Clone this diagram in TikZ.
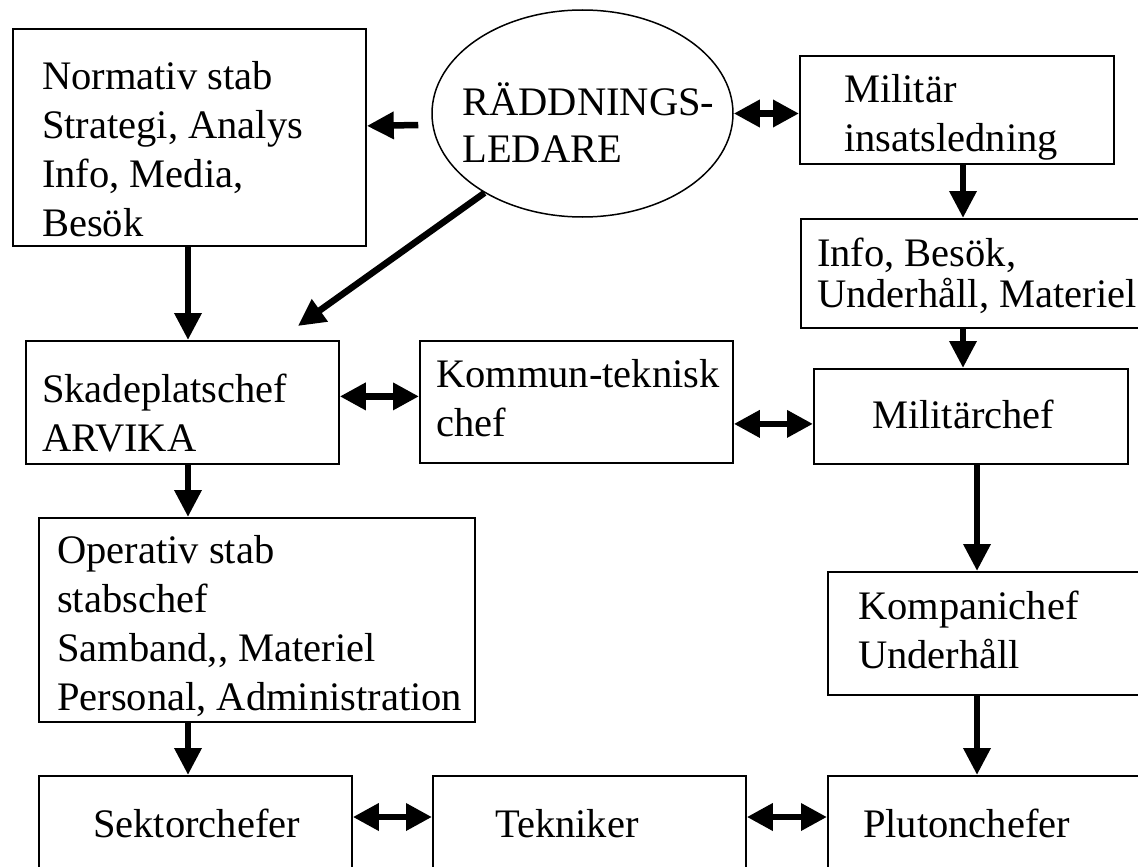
\documentclass[tikz,border=0pt]{standalone}
\usepackage{fontspec}
\setmainfont{Liberation Serif}
\usepackage{tikz}
\usetikzlibrary{shapes,arrows,positioning,calc,arrows.meta}

\tikzset{
  box/.style={draw, line width=1.8pt, anchor=north west, inner sep=0pt},
  txt/.style={anchor=north west, inner sep=0pt, align=left, font=\fontsize{40.5}{49}\selectfont},
  arr/.style={line width=6.5pt, -{Triangle[length=27pt,width=26pt]}},
  dbl/.style={line width=6.5pt, {Triangle[length=26pt,width=26pt]}-{Triangle[length=26pt,width=26pt]}}
}

\begin{document}
\begin{tikzpicture}[x=1pt,y=-1pt]
\useasboundingbox (0,0) rectangle (1138,867);
\clip (0,0) rectangle (1138,867);

% boxes
\node[box, minimum width=353pt, minimum height=217pt] (normativ) at (12,28) {};
\node[draw, line width=1.5pt, ellipse, inner sep=0pt, minimum width=301pt, minimum height=207pt] (leder) at (582.5,113.5) {};
\node[box, minimum width=314pt, minimum height=108pt] (militar) at (799,55) {};
\node[box, minimum width=350pt, minimum height=109pt] (info) at (800,218) {};
\node[box, minimum width=313pt, minimum height=123pt] (skade) at (25,340) {};
\node[box, minimum width=313pt, minimum height=122pt] (kommun) at (419,340) {};
\node[box, minimum width=314pt, minimum height=95pt] (militarchef) at (813,368) {};
\node[box, minimum width=436pt, minimum height=204pt] (operativ) at (38,517) {};
\node[box, minimum width=320pt, minimum height=123pt] (kompani) at (827,571) {};
\node[box, minimum width=313pt, minimum height=125pt] (sektor) at (38,775) {};
\node[box, minimum width=313pt, minimum height=125pt] (tekniker) at (432,775) {};
\node[box, minimum width=320pt, minimum height=125pt] (pluton) at (827,775) {};

% texts
\node[txt, below right=26.7pt and 30pt of normativ.north west] (normativ-txt) {\strut Normativ stab\\Strategi, Analys\\Info, Media,\\Besök};
\node[txt] (leder-txt) at ([xshift=31pt,yshift=32.8pt]leder.west) {\strut RÄDDNINGS-\\[-2pt]LEDARE};
\node[txt, below right=12.7pt and 45pt of militar.north west] (militar-txt) {\strut Militär\\insatsledning};
\node[txt, below right=13.7pt and 17pt of info.north west] (info-txt) {\strut Info, Besök,\\[-8pt]Underhåll, Materiel};
\node[txt, below right=27.7pt and 17pt of skade.north west] (skade-txt) {\strut Skadeplatschef\\ARVIKA};
\node[txt, below right=12.7pt and 17pt of kommun.north west] (kommun-txt) {\strut Kommun-teknisk\\chef};
\node[txt, below right=25.7pt and 59pt of militarchef.north west] (militarchef-txt) {\strut Militärchef};
\node[txt, below right=11.7pt and 19pt of operativ.north west] (operativ-txt) {\strut Operativ stab\\stabschef\\Samband,{},{} Materiel\\Personal, Administration};
\node[txt, below right=13.7pt and 31pt of kompani.north west] (kompani-txt) {\strut Kompanichef\\Underhåll};
\node[txt, below right=27.7pt and 55pt of sektor.north west] (sektor-txt) {\strut Sektorchefer};
\node[txt, below right=27.7pt and 63pt of tekniker.north west] (tekniker-txt) {\strut Tekniker};
\node[txt, below right=27.7pt and 36pt of pluton.north west] (pluton-txt) {\strut Plutonchefer};

% columns and rows of the connectors
\coordinate (lcol) at (188,0);
\coordinate (rcol) at (963,0);
\coordinate (kcol) at (977,0);
\coordinate (brow) at (0,817);

\draw[arr] ([xshift=-13pt,yshift=-11.5pt]leder.west) -- ([yshift=11.5pt]normativ.east);
\draw[dbl] (leder.east) -- (leder.east -| militar.west);
\draw[arr] (leder.219.5) -- ([xshift=115.5pt,yshift=14pt]skade.north);
\draw[arr] (militar.south -| rcol) -- (info.north -| rcol);
\draw[arr] (info.south -| rcol) -- (militarchef.north -| rcol);
\draw[arr] (normativ.south -| lcol) -- (skade.north -| lcol);
\draw[dbl] ([yshift=6pt]skade.east) -- ([yshift=6pt]skade.east -| kommun.west);
\draw[dbl] ([yshift=-22pt]kommun.east) -- ([yshift=-22pt]kommun.east -| militarchef.west);
\draw[arr] (skade.south -| lcol) -- (operativ.north -| lcol);
\draw[arr] (militarchef.south -| kcol) -- (kompani.north -| kcol);
\draw[arr] (operativ.south -| lcol) -- (sektor.north -| lcol);
\draw[arr] (kompani.south -| kcol) -- (pluton.north -| kcol);
\draw[dbl] (sektor.east |- brow) -- (tekniker.west |- brow);
\draw[dbl] (tekniker.east |- brow) -- (pluton.west |- brow);
\end{tikzpicture}
\end{document}
